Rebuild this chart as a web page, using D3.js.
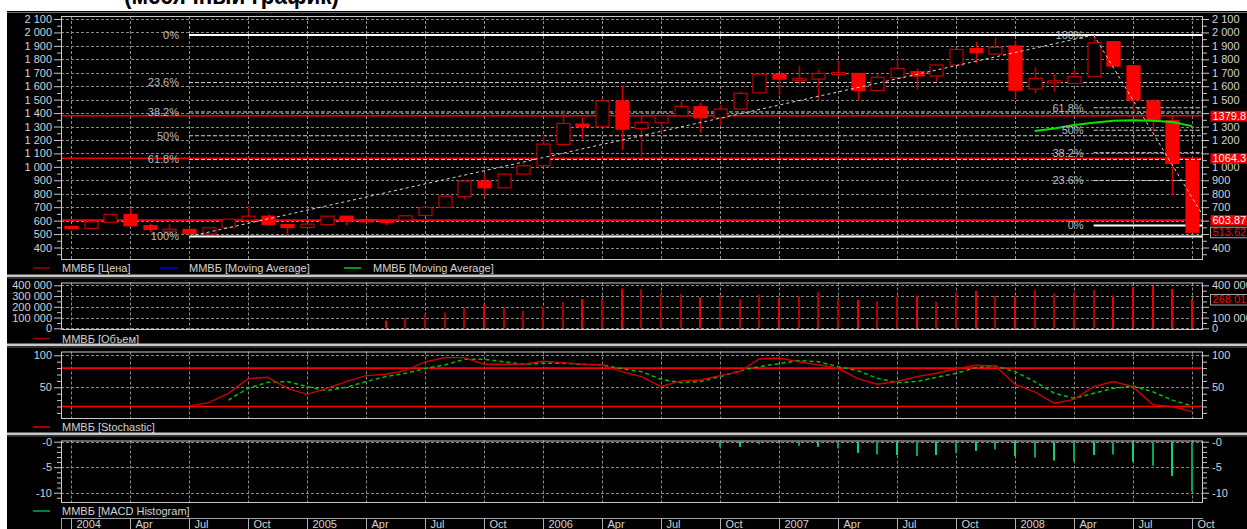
<!DOCTYPE html>
<html><head><meta charset="utf-8">
<script src="https://cdn.jsdelivr.net/npm/d3@7"></script>
<style>
html,body{margin:0;padding:0;background:#fff;overflow:hidden}
svg{display:block}
text{font-family:"Liberation Sans",Arial,sans-serif}
</style></head><body>
<svg id="c" width="1247" height="529"></svg>
<script>
// ---------- DATA ----------
const quarterLabels = ["2004","Apr","Jul","Oct","2005","Apr","Jul","Oct","2006","Apr","Jul","Oct","2007","Apr","Jul","Oct","2008","Apr","Jul","Oct"];
// monthly OHLC, Jan 2004 .. Oct 2008
const open  = [557,542,587,646,562,530,534,500,547,604,633,571,549,571,633,606,600,604,638,698,777,894,844,946,1008,1167,1318,1298,1490,1286,1328,1380,1447,1365,1430,1550,1690,1650,1653,1698,1695,1567,1663,1708,1676,1758,1881,1839,1899,1579,1636,1621,1670,1931,1752,1490,1343,1045];
const high  = [560,591,646,690,578,574,549,547,611,710,645,571,574,633,633,606,602,636,698,782,894,951,946,1026,1236,1423,1365,1509,1606,1385,1380,1497,1477,1460,1560,1690,1690,1752,1725,1782,1695,1695,1815,1733,1758,1874,1931,1963,1939,1740,1690,1720,1981,1935,1752,1504,1385,1050];
const low   = [550,542,587,555,512,497,482,495,547,604,565,490,549,571,567,600,567,604,638,698,757,777,844,946,1008,1167,1207,1298,1125,1075,1254,1380,1254,1306,1430,1550,1534,1609,1497,1670,1492,1567,1663,1576,1633,1758,1770,1832,1509,1546,1559,1621,1670,1750,1410,1249,790,513.62];
const close = [552,591,646,562,534,536,504,547,611,633,571,549,574,633,596,602,598,636,698,782,894,844,946,1008,1169,1323,1298,1490,1281,1331,1380,1450,1365,1430,1547,1690,1653,1656,1695,1702,1567,1666,1733,1676,1758,1874,1849,1889,1571,1658,1640,1670,1923,1750,1497,1348,1025,513.62];
const volume = [2000,2000,2000,2000,2000,2000,2000,2000,2000,2000,2000,2000,2000,2000,2000,2000,71000,93000,130000,149000,192000,223000,192000,161000,202000,245000,273000,273000,369000,363000,319000,319000,288000,307000,273000,310000,276000,295000,335000,273000,264000,251000,304000,304000,245000,332000,347000,304000,298000,357000,326000,332000,357000,304000,381000,394000,366000,268010];
const movingAverage = [null,null,null,null,null,null,null,null,null,null,null,null,null,null,null,null,null,null,null,null,null,null,null,null,null,null,null,null,null,null,null,null,null,null,null,null,null,null,null,null,null,null,null,null,null,null,null,null,null,1266,1286,1311,1328,1343,1346,1343,1333,1303];
const stochK = [null,null,null,null,null,null,21,26,40.6,63.5,65.6,48.4,39,48.4,58.9,68.2,70.3,76,89.6,96.4,96.4,86,86,86,90.6,88.5,86,85,74.5,66.7,51,60,61.5,68.2,74.5,94.3,95.8,90,85,79.7,63.5,54.7,59,66.7,72,78.6,84.4,83.3,54.7,43,25,31,51,59,51,23,19.8,12];
const stochD = [null,null,null,null,null,null,null,null,30,48.4,57.8,58.9,51,44.8,50,58.9,66.7,71.9,79.2,85,93.7,93.7,90,86,87.5,87.5,86,85,79,74.5,62.5,57.3,59,66.7,75.5,82.3,87,91.7,90,82.3,76,64,57.3,59,65.6,71.9,80.7,83.3,74.5,59,40.6,32.8,40.6,48.4,52,43,30,20.8];
const macdHist = [null,null,null,null,null,null,null,null,null,null,null,null,null,null,null,null,null,null,null,null,null,null,null,null,null,null,null,null,null,null,null,null,null,-1.1,-1.0,-0.5,-0.3,-0.8,-1.0,-1.3,-2.2,-2.5,-2.6,-2.8,-2.6,-2.2,-1.8,-1.5,-2.8,-3.1,-3.7,-3.9,-2.6,-2.5,-3.9,-4.7,-6.7,-9.8];
const fibRatios = [0,0.236,0.382,0.5,0.618,1];
const fibLabels = ["0%","23.6%","38.2%","50%","61.8%","100%"];
const fibUpAnchors = [[6,482],[52,1981]];       // [month index, price] low -> high
const fibDownAnchors = [[52,1981],[57.86,564]]; // high -> low
const supportLevels = [1379.8,1064.3,603.87];
const lastPrice = 513.62;
const mainTicks = d3.range(400,2101,100);
const volTicks = [0,100000,200000,300000,400000];
const stochTicks = [50,100];
const stochBands = [80,20];
const macdTicks = [0,-5,-10];
const legendMain = ["ММВБ [Цена]","ММВБ [Moving Average]","ММВБ [Moving Average]"];
const legendVol = "ММВБ [Объем]", legendStoch = "ММВБ [Stochastic]", legendMacd = "ММВБ [MACD Histogram]";
const titleText = "(месячный график)";

// ---------- LAYOUT ----------
const svg = d3.select("#c");
const W = 1247, H = 529;
const plotL = 61, plotR = 1203;
const P = {
  main:{top:16,bottom:259},
  vol:{top:282.5,bottom:329},
  sto:{top:351.5,bottom:418},
  macd:{top:440.5,bottom:502}
};
const x = d3.scaleLinear().domain([0,57]).range([71,1192]);
const yMain = d3.scaleLinear().domain([400,2100]).range([247.5,19]);
const yVol = d3.scaleLinear().domain([0,400000]).range([328.3,285.3]);
const ySto = d3.scaleLinear().domain([50,100]).range([387.3,355.3]);
const yMacd = d3.scaleLinear().domain([-10,0]).range([492.7,441.7]);
const fmtT = d3.formatLocale({decimal:".",thousands:" ",grouping:[3],currency:["",""]}).format(",d");
const FONT = "'Liberation Sans',Arial,sans-serif";
const TXT = "#d4d4d4";
const GRID = "#8a8a8a";

// background
svg.append("rect").attr("width",W).attr("height",H).attr("fill","#fff");
svg.append("rect").attr("x",7).attr("y",11).attr("width",W-7).attr("height",H-11).attr("fill","#000");
svg.append("text").attr("x",124).attr("y",4).attr("textLength",215).attr("lengthAdjust","spacingAndGlyphs")
  .attr("font-size",26).attr("font-weight","bold").attr("fill","#000").text(titleText);
svg.append("line").attr("x1",7).attr("x2",W).attr("y1",12.5).attr("y2",12.5).attr("stroke","#707070");

// separators
[274.5,343.5,432.5].forEach(yy=>{
  svg.append("rect").attr("x",7).attr("y",yy).attr("width",W-7).attr("height",2.5).attr("fill","#c8c8c8");
  svg.append("line").attr("x1",7).attr("x2",W).attr("y1",yy+3.5).attr("y2",yy+3.5).attr("stroke","#5a5a5a");
});

const defs = svg.append("defs");
Object.entries(P).forEach(([k,p])=>{
  defs.append("clipPath").attr("id","clip-"+k).append("rect")
    .attr("x",plotL).attr("y",p.top).attr("width",plotR-plotL).attr("height",p.bottom-p.top);
});

function styleAxis(g){
  g.select(".domain").remove();
  g.attr("font-family",FONT).attr("font-size",11);
  g.selectAll(".tick line").attr("stroke","#c8c8c8");
  g.selectAll(".tick text").attr("fill",TXT);
}
// hiddenRight: pixel positions of value boxes on the right axis; labels under them are covered
function panelAxes(scale, majors, minors, fmt, hiddenRight){
  const gl = svg.append("g").attr("transform",`translate(${plotL},0)`)
    .call(d3.axisLeft(scale).tickValues(majors).tickSize(7).tickPadding(2).tickFormat(fmt));
  styleAxis(gl);
  const gr = svg.append("g").attr("transform",`translate(${plotR},0)`)
    .call(d3.axisRight(scale).tickValues(majors).tickSize(6).tickPadding(3).tickFormat(fmt));
  styleAxis(gr);
  if (hiddenRight) {
    gr.selectAll(".tick").filter(d=>hiddenRight.some(py=>Math.abs(scale(d)-py)<8)).select("text").remove();
  }
  const ml = svg.append("g").attr("transform",`translate(${plotL},0)`)
    .call(d3.axisLeft(scale).tickValues(minors).tickSize(4).tickFormat(""));
  styleAxis(ml);
  const mr = svg.append("g").attr("transform",`translate(${plotR},0)`)
    .call(d3.axisRight(scale).tickValues(minors).tickSize(4).tickFormat(""));
  styleAxis(mr);
}
function grid(p, scale, ticks){
  const g = svg.append("g");
  g.selectAll("line.h").data(ticks).join("line")
    .attr("x1",plotL).attr("x2",plotR).attr("y1",d=>Math.round(scale(d))+0.5).attr("y2",d=>Math.round(scale(d))+0.5)
    .attr("stroke",GRID).attr("stroke-dasharray","3,2");
  g.selectAll("line.v").data(quarterLabels).join("line")
    .attr("x1",(d,i)=>Math.round(x(i*3))+0.5).attr("x2",(d,i)=>Math.round(x(i*3))+0.5)
    .attr("y1",p.top).attr("y2",p.bottom).attr("stroke",GRID).attr("stroke-dasharray","3,2");
}
function frame(p){
  svg.append("rect").attr("x",plotL+0.5).attr("y",p.top+0.5).attr("width",plotR-plotL-1).attr("height",p.bottom-p.top)
    .attr("fill","none").attr("stroke","#c8c8c8");
}
function legendItem(xl, yl, color, label){
  svg.append("line").attr("x1",xl).attr("x2",xl+17).attr("y1",yl).attr("y2",yl).attr("stroke",color).attr("stroke-width",1.5);
  svg.append("text").attr("x",xl+29).attr("y",yl+4).attr("fill",TXT).attr("font-size",11).text(label);
}

// ---------- MAIN PANEL ----------
grid(P.main, yMain, mainTicks);
panelAxes(yMain, mainTicks, d3.range(350,2101,100), fmtT, supportLevels.concat([lastPrice]).map(v=>yMain(v)));
const gm = svg.append("g").attr("clip-path","url(#clip-main)");

function fibSet(anchors, fromTop){
  const [a,b] = anchors;
  const hi = Math.max(a[1],b[1]), lo = Math.min(a[1],b[1]);
  const startIdx = a[0];
  fibRatios.forEach((r,k)=>{
    const v = fromTop ? hi - r*(hi-lo) : lo + r*(hi-lo);
    const solid = (r===0 || r===1);
    const yy = yMain(v);
    gm.append("line").attr("x1",x(startIdx)).attr("x2",plotR).attr("y1",yy).attr("y2",yy)
      .attr("stroke", solid ? "#ffffff" : "#d0d0d0").attr("stroke-width", solid ? 2 : 1)
      .attr("stroke-dasharray", solid ? null : "4,2");
    svg.append("text").attr("x",x(startIdx)-10).attr("y",yy).attr("dy","0.35em").attr("text-anchor","end")
      .attr("fill","#bdbdbd").attr("font-size",11).text(fibLabels[k]);
  });
}
fibSet(fibUpAnchors, true);
fibSet(fibDownAnchors, false);

// support / resistance lines
gm.selectAll("line.sup").data(supportLevels).join("line")
  .attr("x1",plotL).attr("x2",plotR).attr("y1",d=>yMain(d)).attr("y2",d=>yMain(d))
  .attr("stroke","#f00000").attr("stroke-width",1.6);

// candles
const candles = open.map((o,i)=>({i,o,h:high[i],l:low[i],c:close[i],up:close[i]>=o}));
gm.selectAll("line.wick").data(candles).join("line")
  .attr("x1",d=>Math.round(x(d.i))+0.5).attr("x2",d=>Math.round(x(d.i))+0.5)
  .attr("y1",d=>yMain(d.h)).attr("y2",d=>yMain(d.l))
  .attr("stroke",d=>d.up?"#b80000":"#d00000").attr("stroke-width",1.5);
gm.selectAll("rect.body").data(candles).join("rect")
  .attr("x",d=>Math.round(x(d.i))-6).attr("width",13)
  .attr("y",d=>yMain(Math.max(d.o,d.c)))
  .attr("height",d=>Math.max(2,Math.abs(yMain(d.o)-yMain(d.c))))
  .attr("fill",d=>d.up?"#000":"#ff0000")
  .attr("stroke",d=>d.up?"#c40000":"#ff0000").attr("stroke-width",1.2);

// moving average
const maLine = d3.line().defined(d=>d.v!=null).x(d=>x(d.i)).y(d=>yMain(d.v));
gm.append("path").datum(movingAverage.map((v,i)=>({i,v})))
  .attr("d",maLine).attr("fill","none").attr("stroke","#00e600").attr("stroke-width",2);

// trend diagonals
[fibUpAnchors, fibDownAnchors].forEach(an=>{
  gm.append("line").attr("x1",x(an[0][0])).attr("y1",yMain(an[0][1])).attr("x2",x(an[1][0])).attr("y2",yMain(an[1][1]))
    .attr("stroke","#d8d8d8").attr("stroke-width",1).attr("stroke-dasharray","3,3");
});
frame(P.main);

// right value boxes
function valueBox(yy, label, filled){
  svg.append("rect").attr("x",1210.5).attr("y",yy-5).attr("width",40).attr("height",10.5)
    .attr("fill",filled?"#f00000":"#000").attr("stroke",filled?"none":"#a8a8a8");
  svg.append("text").attr("x",1212.5).attr("y",yy).attr("dy","0.36em").attr("font-size",11)
    .attr("fill",filled?"#fff":"#ff0000").text(label);
}
supportLevels.forEach(v=>valueBox(yMain(v), String(v), true));
valueBox(yMain(lastPrice), lastPrice.toFixed(2), false);

// main legend
legendItem(33, 268, "#a00000", legendMain[0]);
legendItem(160, 268, "#0000ff", legendMain[1]);
legendItem(344, 268, "#00d000", legendMain[2]);

// ---------- VOLUME PANEL ----------
grid(P.vol, yVol, volTicks);
panelAxes(yVol, volTicks, [50000,150000,250000,350000], fmtT, [yVol(volume[volume.length-1])]);
const gv = svg.append("g").attr("clip-path","url(#clip-vol)");
gv.selectAll("rect").data(volume.map((v,i)=>({i,v,up:candles[i].up}))).join("rect")
  .attr("x",d=>Math.round(x(d.i))-1).attr("width",2)
  .attr("y",d=>yVol(d.v)).attr("height",d=>yVol(0)-yVol(d.v))
  .attr("fill",d=>d.up?"#b00000":"#e80000");
frame(P.vol);
valueBox(yVol(volume[volume.length-1]), fmtT(volume[volume.length-1]), false);
legendItem(33, 338.5, "#a00000", legendVol);

// ---------- STOCHASTIC PANEL ----------
grid(P.sto, ySto, stochTicks);
panelAxes(ySto, stochTicks, [10,20,30,40,60,70,80,90], d3.format("d"));
const gs = svg.append("g").attr("clip-path","url(#clip-sto)");
gs.selectAll("line.band").data(stochBands).join("line")
  .attr("x1",plotL).attr("x2",plotR).attr("y1",d=>ySto(d)).attr("y2",d=>ySto(d))
  .attr("stroke","#ff0000").attr("stroke-width",1.6);
const stoLine = d3.line().defined(d=>d.v!=null).x(d=>x(d.i)).y(d=>ySto(d.v));
gs.append("path").datum(stochD.map((v,i)=>({i,v})))
  .attr("d",stoLine).attr("fill","none").attr("stroke","#00c000").attr("stroke-width",1.5).attr("stroke-dasharray","4,3");
gs.append("path").datum(stochK.map((v,i)=>({i,v})))
  .attr("d",stoLine).attr("fill","none").attr("stroke","#d00000").attr("stroke-width",1.4);
frame(P.sto);
legendItem(33, 427, "#e00000", legendStoch);

// ---------- MACD PANEL ----------
grid(P.macd, yMacd, macdTicks);
panelAxes(yMacd, macdTicks, [-1,-2,-3,-4,-6,-7,-8,-9,-11], d=>d===0?"-0":String(d));
const gh = svg.append("g").attr("clip-path","url(#clip-macd)");
gh.selectAll("rect").data(macdHist.map((v,i)=>({i,v})).filter(d=>d.v!=null)).join("rect")
  .attr("x",d=>Math.round(x(d.i))-1).attr("width",2)
  .attr("y",yMacd(0)).attr("height",d=>yMacd(d.v)-yMacd(0))
  .attr("fill",(d,k)=>k%2?"#10d070":"#00a858");
frame(P.macd);
legendItem(33, 511, "#00a858", legendMacd);

// ---------- TIME AXIS ----------
const gx = svg.append("g").attr("transform","translate(0,518.5)")
  .call(d3.axisBottom(x).tickValues(quarterLabels.map((d,i)=>i*3)).tickSize(11).tickFormat((d,i)=>quarterLabels[i]));
gx.select(".domain").remove();
gx.attr("font-family",FONT).attr("font-size",11);
gx.selectAll(".tick line").attr("stroke","#b0b0b0");
gx.selectAll(".tick text").attr("fill",TXT).attr("text-anchor","start").attr("x",5).attr("y",2).attr("dy","0.71em");
svg.append("line").attr("x1",plotL).attr("x2",plotR).attr("y1",518.5).attr("y2",518.5).attr("stroke","#a0a0a0");
svg.append("line").attr("x1",plotL+0.5).attr("x2",plotL+0.5).attr("y1",518.5).attr("y2",H).attr("stroke","#a0a0a0");
</script>
</body></html>
